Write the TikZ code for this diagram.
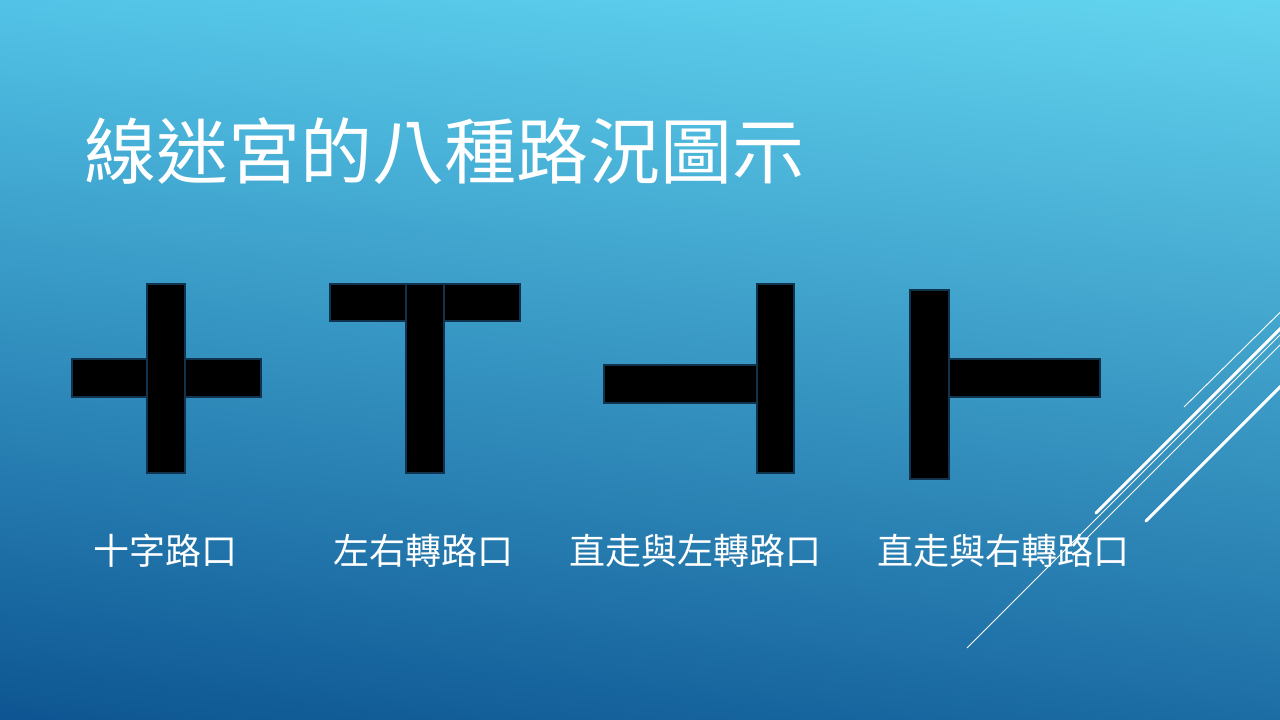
\documentclass[tikz,border=0pt]{standalone}
\usepackage{fontspec}
\usetikzlibrary{shadings}
\newfontfamily\cjk{Noto Sans CJK TC}
\definecolor{bgTL}{HTML}{52C3E6}
\definecolor{bgTR}{HTML}{63D4EF}
\definecolor{bgBL}{HTML}{0D5592}
\definecolor{bgBR}{HTML}{1C6DA4}
\definecolor{barline}{HTML}{12334D}
\tikzset{
  bar/.style={fill=black, draw=barline, line width=1.5pt},
  titletext/.style={text=white, font=\cjk\fontsize{72}{80}\selectfont, inner sep=0pt, anchor=base west},
  labeltext/.style={text=white, font=\cjk\fontsize{36}{40}\selectfont, inner sep=0pt, anchor=base},
  thinline/.style={draw=white, line width=0.9pt},
  thickline/.style={draw=white, line width=3pt, line cap=round},
}
\begin{document}
\begin{tikzpicture}[x=1pt,y=-1pt]
\useasboundingbox (0,0) rectangle (1280,720);
\shade[upper left=bgTL, upper right=bgTR, lower left=bgBL, lower right=bgBR] (0,0) rectangle (1280,720);

% decorative lines
\coordinate (a1) at (1184,407); \coordinate (a2) at (1280,312.5);
\coordinate (b1) at (1096,513); \coordinate (b2) at (1281,328);
\coordinate (e1) at (967,648); \coordinate (e2) at (1280,335);
\coordinate (f1) at (1085,540); \coordinate (f2) at (1280,345);
\coordinate (d1) at (1146,521); \coordinate (d2) at (1281,386);
\draw[thinline] (a1) -- (a2);
\draw[thinline] (e1) -- (e2);
\draw[thinline] (f1) -- (f2);
\draw[thickline] (b1) -- (b2);
\draw[thickline] (d1) -- (d2);

% title
\node[titletext] (title) at (84,178) {線迷宮的八種路況圖示};

% cross
\draw[bar] (72,359) rectangle (147,397);
\draw[bar] (185,359) rectangle (261,397);
\draw[bar] (147,284) rectangle (185,473);

% T
\draw[bar] (330,284) rectangle (406,321);
\draw[bar] (444,284) rectangle (520,321);
\draw[bar] (406,284) rectangle (444,473);

% straight + left
\draw[bar] (604,365) rectangle (757,403);
\draw[bar] (757,284) rectangle (794,473);

% straight + right
\draw[bar] (910,290) rectangle (949,479);
\draw[bar] (949,359) rectangle (1100,397);

% labels
\node[labeltext] (l1) at (165,564.5) {十字路口};
\node[labeltext] (l2) at (423.5,564.5) {左右轉路口};
\node[labeltext] (l3) at (695,564.5) {直走與左轉路口};
\node[labeltext] (l4) at (1003,564.5) {直走與右轉路口};
\end{tikzpicture}
\end{document}
